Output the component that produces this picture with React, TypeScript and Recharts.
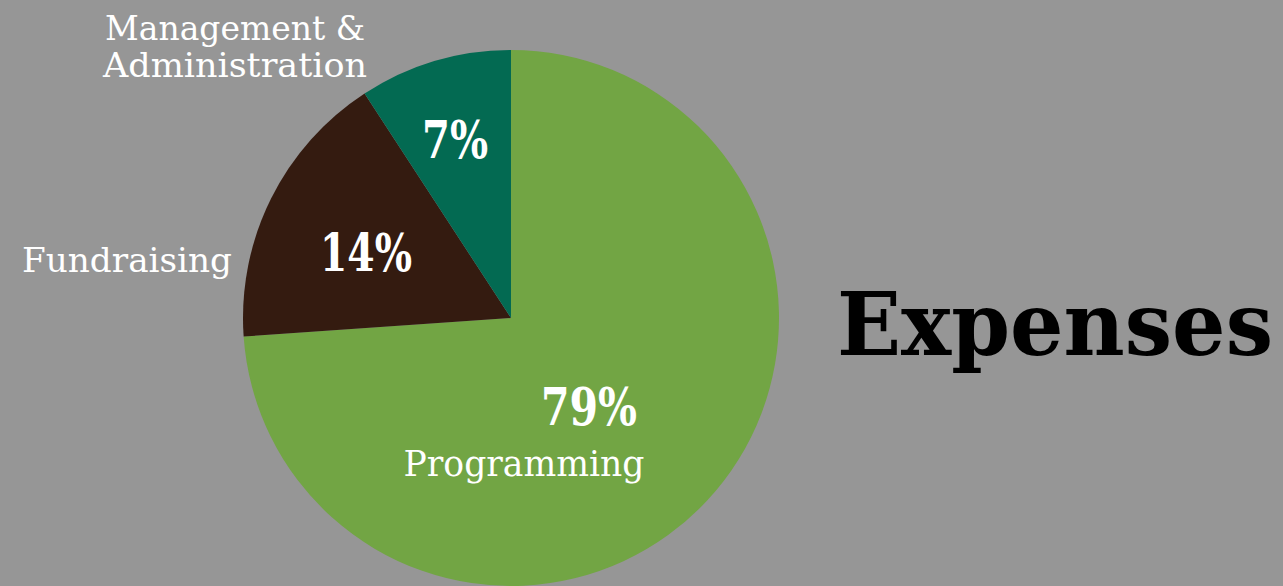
import React from "react";
import { PieChart, Pie, Cell } from "recharts";

const categories = ["Programming", "Fundraising", "Management & Administration"];
const sliceValues = [73.9, 16.9, 9.2];
const percentLabels = ["79%", "14%", "7%"];
const sliceColors = ["#72A544", "#341B10", "#036A52"];
const title = "Expenses";

const data = categories.map((name, i) => ({ name, value: sliceValues[i] }));

const FONT = "'DejaVu Serif', serif";

export default function App() {
  return (
    <div
      style={{
        position: "absolute",
        left: 0,
        top: 0,
        width: 1283,
        height: 586,
        background: "#969696",
        overflow: "hidden",
      }}
    >
      <PieChart
        width={1283}
        height={586}
        margin={{ top: 0, right: 0, bottom: 0, left: 0 }}
        style={{ position: "absolute", left: 0, top: 0 }}
      >
        <Pie
          data={data}
          dataKey="value"
          nameKey="name"
          cx={511}
          cy={318}
          outerRadius={268}
          innerRadius={0}
          startAngle={90}
          endAngle={-270}
          stroke="none"
          isAnimationActive={false}
          labelLine={false}
        >
          {data.map((d, i) => (
            <Cell key={d.name} fill={sliceColors[i]} />
          ))}
        </Pie>
      </PieChart>
      <svg
        width={1283}
        height={586}
        style={{ position: "absolute", left: 0, top: 0, pointerEvents: "none" }}
      >
        <g fontFamily={FONT} fill="#ffffff">
          <text x={235} y={40} fontSize={33} textAnchor="middle" textLength={260} lengthAdjust="spacingAndGlyphs">
            Management &amp;
          </text>
          <text x={235} y={77} fontSize={33} textAnchor="middle" textLength={264} lengthAdjust="spacingAndGlyphs">
            Administration
          </text>
          <text x={127} y={272} fontSize={33} textAnchor="middle" textLength={210} lengthAdjust="spacingAndGlyphs">
            {categories[1]}
          </text>
          <text x={524} y={476} fontSize={35} textAnchor="middle" textLength={241} lengthAdjust="spacingAndGlyphs">
            {categories[0]}
          </text>
          <text x={455} y={158} fontSize={53} fontWeight="bold" textAnchor="middle" textLength={66} lengthAdjust="spacingAndGlyphs">
            {percentLabels[2]}
          </text>
          <text x={366} y={271} fontSize={53} fontWeight="bold" textAnchor="middle" textLength={92} lengthAdjust="spacingAndGlyphs">
            {percentLabels[1]}
          </text>
          <text x={589} y={425} fontSize={53} fontWeight="bold" textAnchor="middle" textLength={96} lengthAdjust="spacingAndGlyphs">
            {percentLabels[0]}
          </text>
        </g>
        <text
          x={837}
          y={355}
          fontFamily={FONT}
          fontSize={88}
          fontWeight="bold"
          fill="#000000"
          textAnchor="start"
          textLength={436}
          lengthAdjust="spacingAndGlyphs"
        >
          {title}
        </text>
      </svg>
    </div>
  );
}
